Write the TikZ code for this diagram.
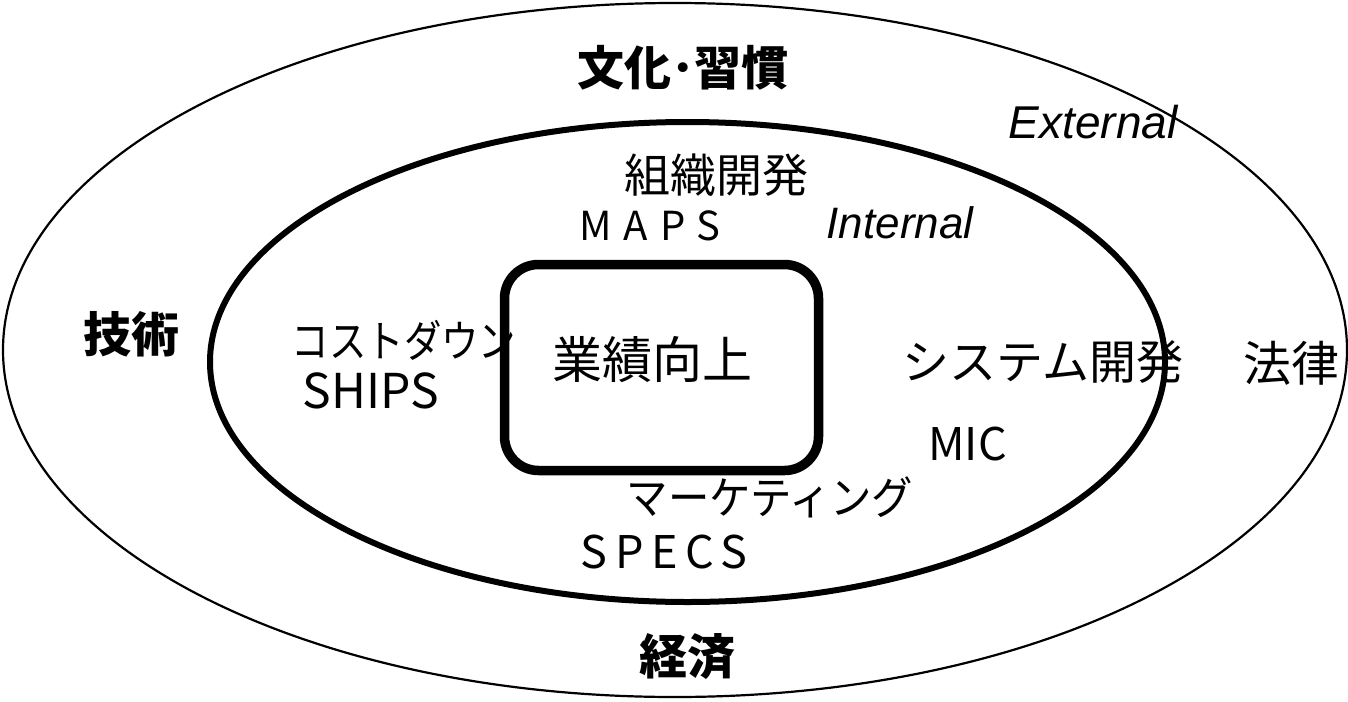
\documentclass[tikz,border=0pt]{standalone}
\usepackage{fontspec}
\setmainfont{Liberation Sans}
\newfontfamily\jp{Noto Sans CJK JP}

\begin{document}
\begin{tikzpicture}[x = 1pt, y = -1pt,
	jp/.style = {font = \jp\fontsize{#1}{#1}\selectfont, inner sep = 0pt},
	jp/.default = 46,
	jpbold/.style = {font = \jp\bfseries\fontsize{#1}{#1}\selectfont, inner sep = 0pt},
	jpbold/.default = 47,
	code/.style = {font = \jp\fontsize{#1}{#1}\selectfont, inner sep = 0pt, anchor = base},
	code/.default = 45,
	eng/.style = {font = \itshape\fontsize{#1}{#1}\selectfont, inner sep = 0pt, anchor = base},
	eng/.default = 46]
	\useasboundingbox (0, 0) rectangle (1348, 701);
	\draw [black, line width = 2.2pt] (675, 350) ellipse [x radius = 672pt, y radius = 347pt];
	\draw [black, line width = 6pt] (687.5, 362) ellipse [x radius = 477.5pt, y radius = 240pt];
	\draw [black, line width = 9.5pt, rounded corners = 34pt] (504.5, 264.5) rectangle (818.5, 470.5);
	\node (culture) at (683, 68) [jpbold] {文化･習慣};
	\node (external) at (1093, 138) [eng] {External};
	\node (orgdev) at (716, 175) [jp] {組織開発};
	\node (maps) at (650, 240) [code = 40] {\addfontfeature{LetterSpace = 30}MAPS};
	\node (internal) at (900, 238) [eng = 44] {Internal};
	\node (tech) at (131, 334) [jpbold = 48] {技術};
	\node (costdown) at (404, 340) [jp = 44] {\scalebox{0.85}[1]{コストダウン}};
	\node (ships) at (371, 408) [code = 48] {SHIPS};
	\node (results) at (652, 360) [jp = 50] {業績向上};
	\node (sysdev) at (1043, 362) [jp = 47] {システム開発};
	\node (law) at (1291, 363) [jp = 48] {法律};
	\node (mic) at (967.5, 460) [code] {MIC};
	\node (marketing) at (770, 497) [jp = 45] {\scalebox{0.92}[1]{マーケティング}};
	\node (specs) at (664, 568) [code] {\addfontfeature{LetterSpace = 17}SPECS};
	\node (economy) at (687, 657) [jpbold = 48] {経済};
\end{tikzpicture}
\end{document}
